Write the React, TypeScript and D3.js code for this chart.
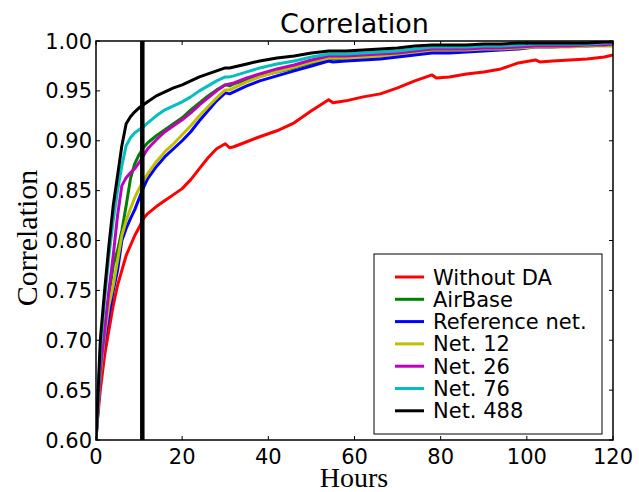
import React from "react";
import * as d3 from "d3";

const hours = [0,1,2,3,4,5,6,7,8,9,10,11,12,14,16,18,20,22,24,26,28,30,31,32,35,38,42,46,50,54,55,58,62,66,70,74,78,79,82,86,90,94,98,102,103,106,110,114,118,120];

const withoutDA = [0.605,0.65,0.685,0.71,0.735,0.755,0.77,0.785,0.795,0.805,0.813,0.822,0.827,0.834,0.840,0.846,0.852,0.861,0.872,0.883,0.892,0.897,0.893,0.894,0.899,0.904,0.910,0.918,0.930,0.941,0.938,0.940,0.944,0.947,0.953,0.960,0.966,0.963,0.964,0.967,0.969,0.972,0.978,0.981,0.979,0.980,0.981,0.982,0.984,0.986];
const airBase = [0.60,0.665,0.71,0.745,0.775,0.79,0.81,0.835,0.862,0.877,0.886,0.893,0.898,0.905,0.911,0.917,0.923,0.931,0.938,0.945,0.951,0.956,0.955,0.957,0.961,0.965,0.969,0.973,0.978,0.982,0.982,0.982,0.983,0.984,0.986,0.988,0.990,0.990,0.990,0.991,0.992,0.993,0.994,0.995,0.995,0.995,0.996,0.996,0.997,0.997];
const referenceNet = [0.60,0.665,0.70,0.725,0.75,0.77,0.80,0.812,0.822,0.831,0.842,0.853,0.862,0.874,0.884,0.892,0.900,0.909,0.920,0.930,0.940,0.948,0.947,0.949,0.955,0.960,0.965,0.970,0.975,0.980,0.979,0.980,0.981,0.982,0.984,0.986,0.988,0.988,0.988,0.989,0.990,0.991,0.992,0.994,0.994,0.994,0.995,0.995,0.996,0.996];
const net12 = [0.60,0.665,0.705,0.735,0.755,0.78,0.805,0.82,0.832,0.843,0.852,0.860,0.867,0.879,0.889,0.897,0.906,0.915,0.925,0.934,0.943,0.951,0.951,0.953,0.959,0.964,0.969,0.974,0.979,0.983,0.983,0.983,0.984,0.985,0.987,0.989,0.991,0.991,0.991,0.991,0.992,0.992,0.993,0.994,0.994,0.994,0.994,0.995,0.995,0.995];
const net26 = [0.60,0.67,0.71,0.75,0.785,0.825,0.855,0.863,0.868,0.872,0.878,0.885,0.892,0.901,0.909,0.915,0.921,0.928,0.936,0.943,0.950,0.956,0.957,0.958,0.963,0.967,0.972,0.976,0.981,0.985,0.985,0.985,0.986,0.987,0.988,0.990,0.992,0.992,0.992,0.992,0.993,0.993,0.994,0.995,0.995,0.995,0.995,0.996,0.996,0.997];
const net76 = [0.60,0.69,0.74,0.785,0.82,0.85,0.875,0.895,0.903,0.908,0.911,0.914,0.918,0.925,0.931,0.935,0.939,0.944,0.950,0.955,0.960,0.964,0.964,0.965,0.969,0.973,0.977,0.980,0.984,0.987,0.987,0.987,0.988,0.989,0.990,0.992,0.994,0.994,0.994,0.994,0.995,0.995,0.996,0.997,0.997,0.997,0.997,0.997,0.998,0.998];
const net488 = [0.60,0.70,0.75,0.795,0.835,0.865,0.895,0.917,0.924,0.929,0.933,0.936,0.939,0.945,0.949,0.953,0.956,0.960,0.964,0.967,0.970,0.973,0.973,0.974,0.977,0.980,0.983,0.985,0.988,0.990,0.990,0.990,0.991,0.992,0.993,0.995,0.996,0.996,0.996,0.996,0.997,0.997,0.998,0.998,0.998,0.998,0.998,0.998,0.999,0.999];

const seriesNames = ["Without DA","AirBase","Reference net.","Net. 12","Net. 26","Net. 76","Net. 488"];
const seriesValues = [withoutDA, airBase, referenceNet, net12, net26, net76, net488];
const seriesColors = ["#ff0000","#008000","#0000ff","#bfbf00","#bf00bf","#00bfbf","#000000"];

const xTicks = [0,20,40,60,80,100,120];
const yTicks = [0.60,0.65,0.70,0.75,0.80,0.85,0.90,0.95,1.00];
const markerHour = 10.75;

const W = 639, H = 492;
const L = 96, R = 613, T = 41, B = 440;

export default function App() {
  const x = d3.scaleLinear().domain([0, 120]).range([L, R]);
  const y = d3.scaleLinear().domain([0.6, 1.0]).range([B, T]);
  const line = d3.line<number>().x((_, i) => x(hours[i])).y((v) => y(v));
  const sans = "'DejaVu Sans', sans-serif";
  const serif = "'Liberation Serif', 'DejaVu Serif', serif";
  const legX = 374, legY = 254, legW = 228, legH = 180;
  return (
    <div style={{ position: "absolute", left: 0, top: 0 }}>
      <svg width={W} height={H} style={{ display: "block", background: "#fff" }}>
        <defs>
          <clipPath id="plot"><rect x={L} y={T} width={R - L} height={B - T} /></clipPath>
        </defs>
        <g clipPath="url(#plot)">
          {seriesValues.map((vals, i) => (
            <path key={i} d={line(vals) || ""} fill="none" stroke={seriesColors[i]} strokeWidth={3} strokeLinejoin="round" />
          ))}
          <line x1={x(markerHour)} x2={x(markerHour)} y1={T} y2={B} stroke="#000" strokeWidth={4.5} />
        </g>
        <rect x={L} y={T} width={R - L} height={B - T} fill="none" stroke="#000" strokeWidth={1.5} />
        {xTicks.map((t) => (
          <g key={"x" + t}>
            <line x1={x(t)} x2={x(t)} y1={B} y2={B - 4} stroke="#000" />
            <line x1={x(t)} x2={x(t)} y1={T} y2={T + 4} stroke="#000" />
            <text x={x(t)} y={B + 24} textAnchor="middle" fontFamily={sans} fontSize={21}>{t}</text>
          </g>
        ))}
        {yTicks.map((t) => (
          <g key={"y" + t}>
            <line x1={L} x2={L + 4} y1={y(t)} y2={y(t)} stroke="#000" />
            <line x1={R} x2={R - 4} y1={y(t)} y2={y(t)} stroke="#000" />
            <text x={L - 4} y={y(t) + 7.5} textAnchor="end" fontFamily={sans} fontSize={21}>{t.toFixed(2)}</text>
          </g>
        ))}
        <text x={(L + R) / 2} y={33} textAnchor="middle" fontFamily={sans} fontSize={27}>Correlation</text>
        <text x={354} y={487} textAnchor="middle" fontFamily={serif} fontSize={28}>Hours</text>
        <text transform={`translate(37,238) rotate(-90)`} textAnchor="middle" fontFamily={serif} fontSize={30}>Correlation</text>
        <rect x={legX} y={legY} width={legW} height={legH} fill="#fff" stroke="#000" strokeWidth={1} />
        {seriesNames.map((n, i) => (
          <g key={n}>
            <line x1={395} x2={424} y1={277 + i * 22.3} y2={277 + i * 22.3} stroke={seriesColors[i]} strokeWidth={3} />
            <text x={433} y={277 + i * 22.3 + 7.5} fontFamily={sans} fontSize={21}>{n}</text>
          </g>
        ))}
      </svg>
    </div>
  );
}
